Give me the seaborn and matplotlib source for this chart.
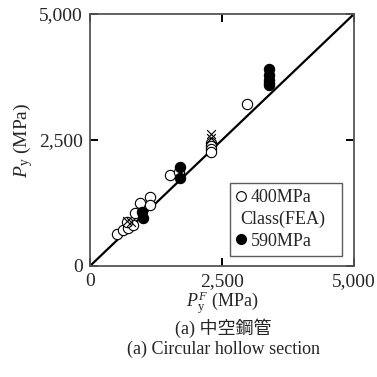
import matplotlib
matplotlib.use("Agg")
import matplotlib.pyplot as plt
import seaborn as sns
import pandas as pd
from matplotlib.lines import Line2D

sns.set_theme(style="white")
plt.rcParams["font.family"] = ["Liberation Serif", "Noto Sans CJK JP"]
plt.rcParams["mathtext.fontset"] = "custom"
plt.rcParams["mathtext.rm"] = "Liberation Serif"
plt.rcParams["mathtext.it"] = "Liberation Serif:italic"

# FEA prediction (x) vs. measured yield load (y), MPa
x_400 = [511, 625, 720, 815, 700, 852, 947, 1136, 1136, 1515, 1686, 2292, 2292, 2292, 2292, 2973]
y_400 = [635, 714, 754, 813, 873, 1052, 1250, 1369, 1210, 1806, 1865, 2450, 2380, 2320, 2270, 3214]

x_590 = [985, 1000, 1705, 1705, 3390, 3390, 3390, 3390, 3390]
y_590 = [1080, 960, 1964, 1746, 3900, 3780, 3700, 3640, 3600]

x_cross = [2292, 2292, 700, 780]
y_cross = [2620, 2530, 900, 870]

ticks = [0, 2500, 5000]
tick_labels = ["0", "2,500", "5,000"]

df400 = pd.DataFrame({"x": x_400, "y": y_400})
df590 = pd.DataFrame({"x": x_590, "y": y_590})
dfx = pd.DataFrame({"x": x_cross, "y": y_cross})

fig = plt.figure(figsize=(3.77, 3.77), dpi=100)
ax = fig.add_axes([90 / 377, 1 - 266 / 377, 264 / 377, 252 / 377])

sns.lineplot(x=[0, 5000], y=[0, 5000], color="black", linewidth=1.6, ax=ax)
sns.scatterplot(data=df400, x="x", y="y", ax=ax, marker="o", s=55,
                facecolor="white", edgecolor="black", linewidth=0.8, zorder=3)
sns.scatterplot(data=dfx, x="x", y="y", ax=ax, marker="x", s=40,
                color="black", linewidth=0.8, zorder=4)
sns.scatterplot(data=df590, x="x", y="y", ax=ax, marker="o", s=55,
                color="black", edgecolor="black", linewidth=0.8, zorder=5)

ax.set_xlim(0, 5000)
ax.set_ylim(0, 5000)
ax.set_xticks(ticks)
ax.set_yticks(ticks)
ax.set_xticklabels(tick_labels, fontsize=14)
ax.set_yticklabels(tick_labels, fontsize=14)
ax.tick_params(direction="in", length=6, width=1.4, color="black",
               top=True, right=True, bottom=True, left=True, pad=5)
for s in ax.spines.values():
    s.set_color("#555555")
    s.set_linewidth(1.3)

ax.set_xlabel(r"$P_{\mathrm{y}}^{F}$ (MPa)", fontsize=13, labelpad=0)
ax.set_ylabel(r"$P_{\mathrm{y}}$ (MPa)", fontsize=14, labelpad=3)

handles = [
    Line2D([], [], marker="o", linestyle="none", markerfacecolor="white",
           markeredgecolor="black", markersize=7, markeredgewidth=0.8),
    Line2D([], [], linestyle="none"),
    Line2D([], [], marker="o", linestyle="none", markerfacecolor="black",
           markeredgecolor="black", markersize=7),
]
leg = ax.legend(handles, ["400MPa", "Class(FEA)", "590MPa"],
                loc="lower right", bbox_to_anchor=(342 / 377, 1 - 256 / 377),
                bbox_transform=fig.transFigure, fontsize=13, frameon=True,
                fancybox=False, handlelength=0.5, handletextpad=0.3,
                borderpad=0.35, labelspacing=0.25, borderaxespad=0)
leg.get_frame().set_edgecolor("#333333")
leg.get_frame().set_linewidth(1.0)
leg.get_texts()[1].set_position((-10, 0))

fig.text(223 / 377, 1 - 328 / 377, "(a) 中空鋼管", ha="center", va="center", fontsize=13)
fig.text(223 / 377, 1 - 349 / 377, "(a) Circular hollow section", ha="center",
         va="center", fontsize=13)

fig.savefig("out.png", dpi=100)
